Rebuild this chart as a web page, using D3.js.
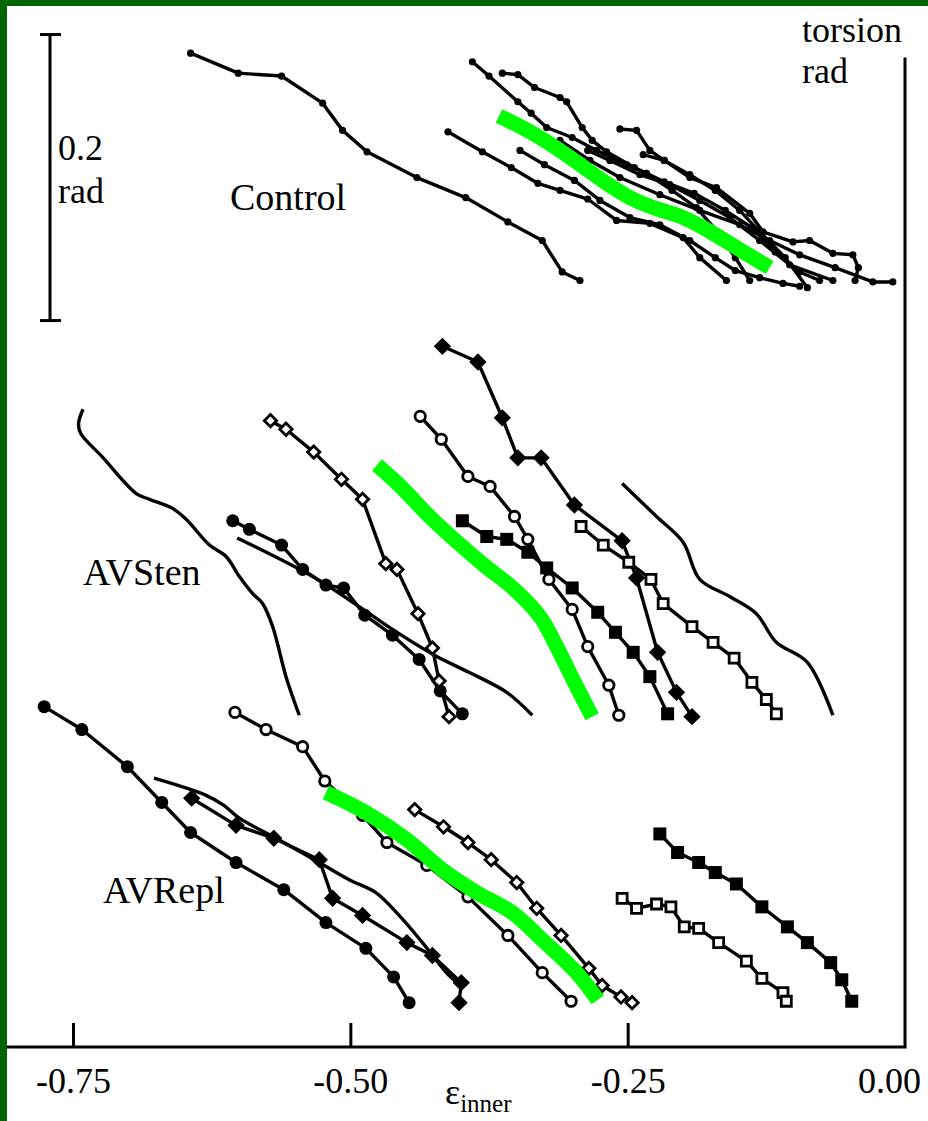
<!DOCTYPE html>
<html>
<head>
<meta charset="utf-8">
<script src="https://cdn.jsdelivr.net/npm/d3@7"></script>
<style>
  body { margin: 0; background: #fff; }
  svg { display: block; }
  text { font-family: "Liberation Serif", "Times New Roman", serif; fill: #000; }
</style>
</head>
<body>
<svg id="chart" width="928" height="1121"></svg>
<script>
// ---- data: [epsilon_inner, torsion (rad, stacked offset)] ----

// Control (small dots)
const control1 = [[-0.644,0.695],[-0.601,0.681],[-0.562,0.679],[-0.525,0.660],[-0.507,0.641],[-0.485,0.626],[-0.440,0.608],[-0.396,0.594],[-0.358,0.577],[-0.327,0.564],[-0.309,0.542],[-0.293,0.536]];
const control2 = [[-0.412,0.640],[-0.381,0.626],[-0.355,0.615],[-0.331,0.604],[-0.311,0.599],[-0.286,0.593],[-0.260,0.578],[-0.230,0.576],[-0.200,0.566],[-0.185,0.552],[-0.161,0.536]];
const control3 = [[-0.390,0.689],[-0.375,0.679],[-0.349,0.661],[-0.337,0.653],[-0.323,0.643],[-0.300,0.636],[-0.278,0.627],[-0.251,0.617],[-0.233,0.611],[-0.210,0.599],[-0.188,0.587],[-0.169,0.570],[-0.153,0.552],[-0.140,0.536]];
const control4 = [[-0.363,0.681],[-0.349,0.680],[-0.334,0.671],[-0.311,0.664],[-0.305,0.661],[-0.291,0.643],[-0.282,0.634],[-0.269,0.626],[-0.244,0.615],[-0.217,0.605],[-0.190,0.597],[-0.162,0.585],[-0.138,0.573],[-0.117,0.556],[-0.095,0.542],[-0.077,0.536]];
const control5 = [[-0.257,0.642],[-0.242,0.641],[-0.230,0.627],[-0.217,0.620],[-0.194,0.610],[-0.171,0.599],[-0.149,0.585],[-0.131,0.570],[-0.108,0.552],[-0.088,0.531]];
const control6 = [[-0.236,0.624],[-0.217,0.620],[-0.194,0.608],[-0.170,0.601],[-0.140,0.583],[-0.128,0.570],[-0.101,0.563],[-0.086,0.564],[-0.065,0.555],[-0.047,0.554],[-0.042,0.545],[-0.045,0.536]];
const control7 = [[-0.311,0.634],[-0.284,0.620],[-0.257,0.608],[-0.221,0.596],[-0.185,0.585],[-0.149,0.575],[-0.122,0.564],[-0.095,0.554],[-0.063,0.545],[-0.029,0.535],[-0.011,0.535]];
const control8 = [[-0.347,0.627],[-0.325,0.617],[-0.298,0.606],[-0.275,0.592],[-0.248,0.580],[-0.221,0.575],[-0.194,0.564],[-0.171,0.552],[-0.153,0.543],[-0.131,0.538],[-0.110,0.534],[-0.095,0.532]];
const control9 = [[-0.286,0.627],[-0.266,0.620],[-0.239,0.610],[-0.212,0.603],[-0.185,0.592],[-0.158,0.580],[-0.131,0.564],[-0.104,0.547],[-0.065,0.536]];
const controlMean = [[-0.366,0.651],[-0.338,0.640],[-0.311,0.627],[-0.289,0.615],[-0.269,0.604],[-0.248,0.594],[-0.227,0.587],[-0.203,0.581],[-0.182,0.573],[-0.152,0.559],[-0.122,0.545]];

// AVSten
const stenLine1 = [[-0.741,0.446],[-0.745,0.436],[-0.743,0.429],[-0.724,0.413],[-0.693,0.387],[-0.681,0.383],[-0.661,0.377],[-0.648,0.369],[-0.627,0.351],[-0.612,0.343],[-0.600,0.329],[-0.588,0.317],[-0.579,0.310],[-0.570,0.294],[-0.558,0.259],[-0.546,0.232]];
const stenFilledCircle = [[-0.606,0.368],[-0.591,0.362],[-0.562,0.351],[-0.543,0.334],[-0.522,0.323],[-0.506,0.321],[-0.487,0.302],[-0.462,0.288],[-0.438,0.271],[-0.419,0.249],[-0.399,0.233]];
const stenLine2 = [[-0.602,0.356],[-0.534,0.329],[-0.492,0.308],[-0.462,0.292],[-0.422,0.273],[-0.393,0.262],[-0.359,0.248],[-0.336,0.232]];
const stenOpenDiamond = [[-0.572,0.438],[-0.558,0.432],[-0.533,0.416],[-0.508,0.397],[-0.489,0.383],[-0.468,0.338],[-0.458,0.334],[-0.439,0.303],[-0.426,0.279],[-0.420,0.256],[-0.411,0.231]];
const stenFilledDiamond = [[-0.417,0.490],[-0.385,0.479],[-0.363,0.440],[-0.349,0.412],[-0.328,0.412],[-0.298,0.379],[-0.255,0.354],[-0.242,0.328],[-0.223,0.276],[-0.206,0.248],[-0.192,0.231]];
const stenOpenCircle = [[-0.437,0.441],[-0.418,0.425],[-0.394,0.399],[-0.374,0.392],[-0.352,0.371],[-0.340,0.355],[-0.321,0.327],[-0.300,0.306],[-0.286,0.280],[-0.267,0.253],[-0.258,0.232]];
const stenFilledSquare = [[-0.399,0.368],[-0.377,0.357],[-0.359,0.355],[-0.340,0.346],[-0.323,0.335],[-0.300,0.321],[-0.277,0.304],[-0.261,0.290],[-0.245,0.276],[-0.230,0.259],[-0.214,0.233]];
const stenOpenSquare = [[-0.292,0.364],[-0.272,0.351],[-0.249,0.339],[-0.229,0.327],[-0.218,0.310],[-0.192,0.294],[-0.173,0.283],[-0.154,0.272],[-0.138,0.255],[-0.125,0.243],[-0.116,0.233]];
const stenLine3 = [[-0.255,0.394],[-0.224,0.371],[-0.200,0.353],[-0.185,0.327],[-0.158,0.315],[-0.134,0.303],[-0.116,0.283],[-0.088,0.269],[-0.065,0.232]];
const stenMean = [[-0.476,0.407],[-0.456,0.393],[-0.426,0.369],[-0.381,0.338],[-0.352,0.320],[-0.329,0.301],[-0.314,0.280],[-0.298,0.255],[-0.282,0.231]];

// AVRepl
const replFilledCircle = [[-0.776,0.238],[-0.742,0.222],[-0.701,0.196],[-0.670,0.171],[-0.644,0.150],[-0.603,0.129],[-0.560,0.110],[-0.522,0.087],[-0.486,0.069],[-0.461,0.049],[-0.447,0.031]];
const replLine = [[-0.677,0.188],[-0.630,0.176],[-0.614,0.169],[-0.600,0.160],[-0.567,0.146],[-0.528,0.129],[-0.501,0.117],[-0.477,0.108],[-0.456,0.092],[-0.435,0.073],[-0.411,0.050],[-0.400,0.043]];
const replFilledDiamond = [[-0.643,0.174],[-0.603,0.155],[-0.569,0.146],[-0.528,0.131],[-0.516,0.104],[-0.489,0.092],[-0.449,0.073],[-0.426,0.064],[-0.400,0.045],[-0.402,0.031]];
const replOpenCircle = [[-0.604,0.234],[-0.576,0.222],[-0.543,0.210],[-0.523,0.186],[-0.489,0.162],[-0.467,0.143],[-0.431,0.127],[-0.394,0.105],[-0.358,0.078],[-0.327,0.052],[-0.301,0.032]];
const replOpenDiamond = [[-0.442,0.166],[-0.416,0.154],[-0.394,0.143],[-0.373,0.131],[-0.350,0.115],[-0.332,0.097],[-0.310,0.078],[-0.285,0.055],[-0.273,0.043],[-0.256,0.035],[-0.246,0.031]];
const replFilledSquare = [[-0.221,0.149],[-0.205,0.136],[-0.186,0.129],[-0.171,0.122],[-0.152,0.114],[-0.129,0.098],[-0.106,0.084],[-0.088,0.073],[-0.067,0.059],[-0.057,0.047],[-0.048,0.032]];
const replOpenSquare = [[-0.255,0.104],[-0.242,0.097],[-0.224,0.100],[-0.211,0.098],[-0.199,0.084],[-0.186,0.083],[-0.168,0.073],[-0.143,0.060],[-0.129,0.048],[-0.110,0.038],[-0.107,0.032]];
const replMean = [[-0.522,0.178],[-0.486,0.164],[-0.449,0.145],[-0.417,0.124],[-0.386,0.108],[-0.354,0.094],[-0.327,0.075],[-0.296,0.052],[-0.277,0.033]];

const xTicks = [-0.75, -0.50, -0.25, 0.00];
const groupLabels = [
    { text: 'Control', x: 230, y: 210 },
    { text: 'AVSten', x: 83, y: 585 },
    { text: 'AVRepl', x: 103, y: 903 }
];
const scaleBarRad = 0.2;
const scaleBarTop = 0.708;

// ---- series table ----
const series = [
    ...[control1, control2, control3, control4, control5, control6, control7, control8, control9]
        .map(pts => ({ pts, marker: 'dot' })),
    { pts: stenLine1, marker: null },
    { pts: stenLine2, marker: null },
    { pts: stenLine3, marker: null },
    { pts: stenFilledCircle, marker: 'filledCircle' },
    { pts: stenOpenDiamond, marker: 'openDiamond' },
    { pts: stenFilledDiamond, marker: 'filledDiamond' },
    { pts: stenOpenCircle, marker: 'openCircle' },
    { pts: stenFilledSquare, marker: 'filledSquare' },
    { pts: stenOpenSquare, marker: 'openSquare' },
    { pts: replFilledCircle, marker: 'filledCircle' },
    { pts: replLine, marker: null },
    { pts: replFilledDiamond, marker: 'filledDiamond' },
    { pts: replOpenCircle, marker: 'openCircle' },
    { pts: replOpenDiamond, marker: 'openDiamond' },
    { pts: replFilledSquare, marker: 'filledSquare' },
    { pts: replOpenSquare, marker: 'openSquare' }
];
const means = [controlMean, stenMean, replMean];

// ---- chart ----
const svg = d3.select('#chart');

const x = d3.scaleLinear().domain([-0.75, 0]).range([73, 905]);
const y = d3.scaleLinear().domain([0, 0.7]).range([1047, 46]);

// frame
svg.append('rect').attr('x', 0).attr('y', 0).attr('width', 928).attr('height', 6).attr('fill', '#006400');
svg.append('rect').attr('x', 0).attr('y', 0).attr('width', 7).attr('height', 1121).attr('fill', '#006400');

const straight = d3.line().x(d => x(d[0])).y(d => y(d[1]));
const smooth = d3.line().x(d => x(d[0])).y(d => y(d[1])).curve(d3.curveCatmullRom);

const markerShapes = {
    dot:           { type: d3.symbolCircle, size: Math.PI * 3.6 * 3.6, fill: '#000', stroke: 'none', rot: 0 },
    filledCircle:  { type: d3.symbolCircle, size: Math.PI * 6.5 * 6.5, fill: '#000', stroke: 'none', rot: 0 },
    openCircle:    { type: d3.symbolCircle, size: Math.PI * 5.2 * 5.2, fill: '#fff', stroke: '#000', rot: 0 },
    filledDiamond: { type: d3.symbolSquare, size: 150, fill: '#000', stroke: 'none', rot: 45 },
    openDiamond:   { type: d3.symbolSquare, size: 76, fill: '#fff', stroke: '#000', rot: 45 },
    filledSquare:  { type: d3.symbolSquare, size: 169, fill: '#000', stroke: 'none', rot: 0 },
    openSquare:    { type: d3.symbolSquare, size: 100, fill: '#fff', stroke: '#000', rot: 0 }
};

const traces = svg.append('g').attr('class', 'traces');

series.forEach(s => {
    const g = traces.append('g');
    g.append('path')
        .attr('d', s.marker ? straight(s.pts) : smooth(s.pts))
        .attr('fill', 'none')
        .attr('stroke', '#000')
        .attr('stroke-width', 3.4)
        .attr('stroke-linejoin', 'round');

    if (!s.marker) return;
    const m = markerShapes[s.marker];
    g.selectAll('path.mk')
        .data(s.pts)
        .enter().append('path')
            .attr('class', 'mk')
            .attr('d', d3.symbol(m.type, m.size))
            .attr('transform', d => `translate(${x(d[0])},${y(d[1])}) rotate(${m.rot})`)
            .attr('fill', m.fill)
            .attr('stroke', m.stroke)
            .attr('stroke-width', 2.8);
});

// mean curves
svg.append('g').selectAll('path')
    .data(means)
    .enter().append('path')
        .attr('d', smooth)
        .attr('fill', 'none')
        .attr('stroke', '#00ff00')
        .attr('stroke-width', 15)
        .attr('stroke-linecap', 'butt');

// bottom axis
const axis = svg.append('g')
    .attr('transform', `translate(0,${y(0)})`)
    .call(d3.axisBottom(x)
        .tickValues(xTicks)
        .tickFormat(d => d.toFixed(2))
        .tickSizeInner(-24)
        .tickSizeOuter(0)
        .tickPadding(20));
axis.select('.domain').remove();
axis.selectAll('.tick line').attr('stroke', '#000').attr('stroke-width', 3);
axis.selectAll('.tick')
    .filter(d => d === 0)
    .select('line').remove();
axis.selectAll('.tick text')
    .attr('font-size', 36)
    .attr('font-family', '"Liberation Serif", serif')
    .attr('fill', '#000');
axis.selectAll('.tick')
    .filter(d => d === 0)
    .select('text')
    .attr('dx', -16);

svg.append('line')
    .attr('x1', 7).attr('x2', x(0) + 1.5)
    .attr('y1', y(0)).attr('y2', y(0))
    .attr('stroke', '#000').attr('stroke-width', 3);

// right (torsion) axis line
svg.append('line')
    .attr('x1', x(0)).attr('x2', x(0))
    .attr('y1', y(0)).attr('y2', y(0.692))
    .attr('stroke', '#000').attr('stroke-width', 3);

svg.append('text').attr('x', 802).attr('y', 42).attr('font-size', 36).text('torsion');
svg.append('text').attr('x', 802).attr('y', 83).attr('font-size', 36).text('rad');

// x label
const xl = svg.append('text').attr('x', 445).attr('y', 1104).attr('font-size', 36);
xl.append('tspan').text('ε');
xl.append('tspan').attr('dy', 8).attr('font-size', 25).text('inner');

// scale bar
const sb = svg.append('g').attr('stroke', '#000').attr('stroke-width', 3);
sb.append('line').attr('x1', 50).attr('x2', 50)
    .attr('y1', y(scaleBarTop)).attr('y2', y(scaleBarTop - scaleBarRad));
[scaleBarTop, scaleBarTop - scaleBarRad].forEach(v => {
    sb.append('line').attr('x1', 40).attr('x2', 61).attr('y1', y(v)).attr('y2', y(v));
});
svg.append('text').attr('x', 58).attr('y', 160).attr('font-size', 36).text('0.2');
svg.append('text').attr('x', 58).attr('y', 203).attr('font-size', 36).text('rad');

// group labels
svg.append('g').selectAll('text')
    .data(groupLabels)
    .enter().append('text')
        .attr('x', d => d.x)
        .attr('y', d => d.y)
        .attr('font-size', 38)
        .text(d => d.text);
</script>
</body>
</html>
